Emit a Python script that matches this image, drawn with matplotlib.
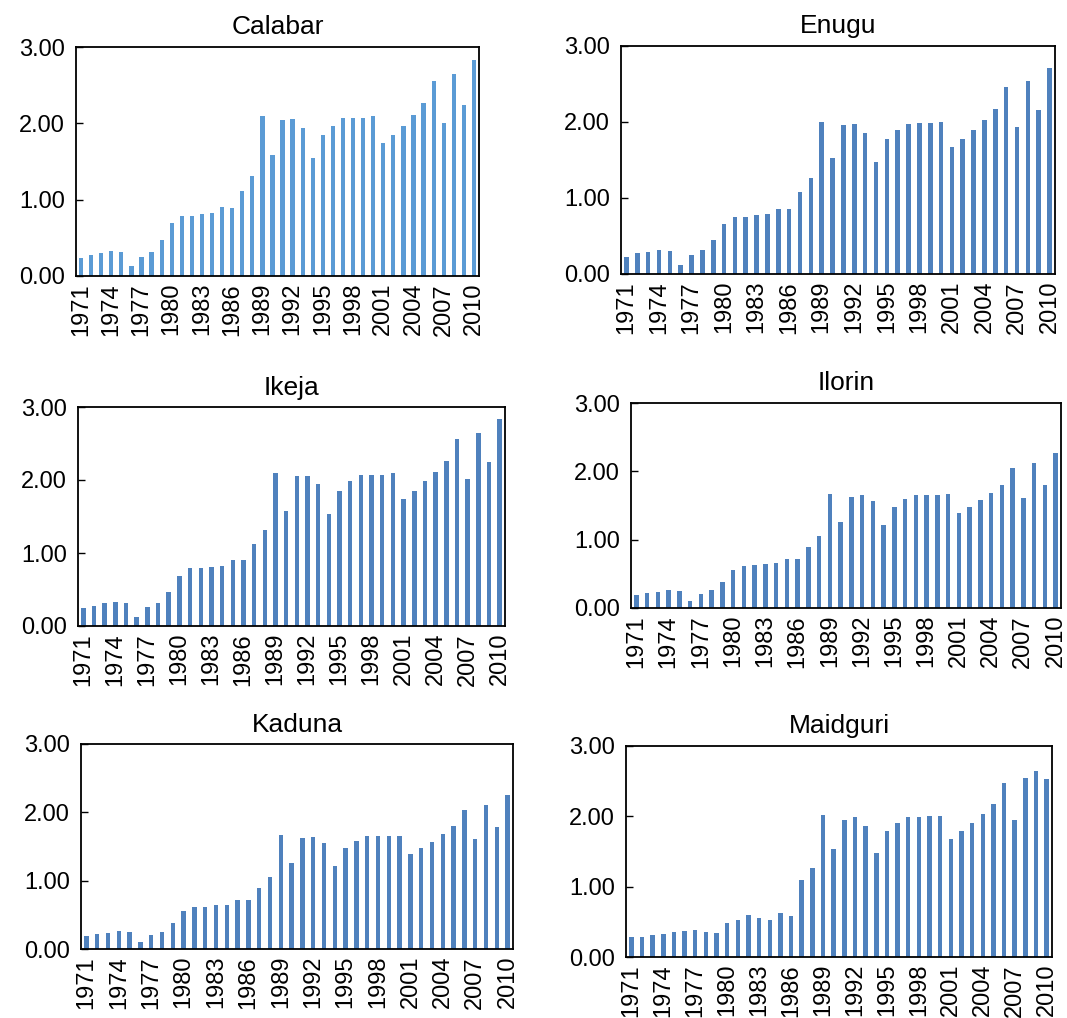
import matplotlib

matplotlib.use("Agg")
import matplotlib.pyplot as plt
import numpy as np

plt.rcParams["font.family"] = ["Liberation Sans", "DejaVu Sans"]

years = list(range(1971, 2011))

calabar = [0.24, 0.28, 0.30, 0.33, 0.31, 0.13, 0.25, 0.32, 0.47, 0.69,
           0.78, 0.79, 0.81, 0.82, 0.90, 0.89, 1.12, 1.31, 2.09, 1.58,
           2.04, 2.06, 1.94, 1.54, 1.85, 1.97, 2.07, 2.07, 2.07, 2.09,
           1.74, 1.85, 1.97, 2.11, 2.26, 2.56, 2.01, 2.65, 2.24, 2.83]
enugu = [0.23, 0.27, 0.29, 0.32, 0.30, 0.12, 0.25, 0.31, 0.45, 0.66,
         0.75, 0.75, 0.78, 0.79, 0.86, 0.86, 1.08, 1.26, 2.00, 1.52,
         1.96, 1.98, 1.86, 1.47, 1.78, 1.90, 1.98, 1.99, 1.99, 2.00,
         1.67, 1.78, 1.89, 2.03, 2.17, 2.46, 1.94, 2.54, 2.16, 2.71]
ikeja = [0.24, 0.28, 0.31, 0.33, 0.32, 0.13, 0.26, 0.32, 0.47, 0.69,
         0.79, 0.79, 0.81, 0.82, 0.90, 0.90, 1.13, 1.32, 2.09, 1.58,
         2.05, 2.06, 1.94, 1.54, 1.85, 1.98, 2.07, 2.07, 2.07, 2.09,
         1.74, 1.85, 1.98, 2.11, 2.26, 2.56, 2.02, 2.65, 2.25, 2.83]
ilorin = [0.19, 0.22, 0.24, 0.26, 0.25, 0.10, 0.20, 0.26, 0.38, 0.55,
          0.62, 0.63, 0.65, 0.66, 0.72, 0.71, 0.90, 1.05, 1.67, 1.26,
          1.63, 1.65, 1.56, 1.22, 1.48, 1.59, 1.65, 1.66, 1.66, 1.67,
          1.39, 1.48, 1.58, 1.69, 1.80, 2.05, 1.61, 2.12, 1.80, 2.27]
kaduna = [0.19, 0.22, 0.24, 0.26, 0.25, 0.10, 0.20, 0.25, 0.38, 0.55,
          0.62, 0.62, 0.64, 0.65, 0.71, 0.71, 0.90, 1.05, 1.67, 1.26,
          1.62, 1.64, 1.55, 1.22, 1.48, 1.58, 1.65, 1.65, 1.65, 1.66,
          1.39, 1.48, 1.57, 1.68, 1.80, 2.04, 1.61, 2.11, 1.79, 2.26]
maidguri = [0.28, 0.28, 0.31, 0.32, 0.36, 0.37, 0.38, 0.36, 0.34, 0.48,
            0.53, 0.60, 0.56, 0.53, 0.62, 0.58, 1.09, 1.27, 2.02, 1.53,
            1.95, 1.99, 1.86, 1.48, 1.79, 1.90, 1.99, 1.99, 2.00, 2.01,
            1.68, 1.79, 1.90, 2.03, 2.18, 2.47, 1.95, 2.55, 2.65, 2.53]

# (name, values, colour, pixel box: left, right, top, bottom)
panels = [
    ("Calabar", calabar, "#5B9BD5", (76, 479, 47, 276)),
    ("Enugu", enugu, "#4F81BD", (621, 1055, 46, 274)),
    ("Ikeja", ikeja, "#4F81BD", (78, 505, 407, 626)),
    ("Ilorin", ilorin, "#4F81BD", (631, 1061, 403, 608)),
    ("Kaduna", kaduna, "#4F81BD", (81, 513, 744, 949)),
    ("Maidguri", maidguri, "#4F81BD", (626, 1052, 746, 957)),
]

W, H = 1067, 1018
fig = plt.figure(figsize=(W / 100, H / 100), dpi=100)

x = np.arange(len(years))
for name, vals, color, (l, r, t, b) in panels:
    ax = fig.add_axes([l / W, 1 - b / H, (r - l) / W, (b - t) / H])
    ax.bar(x, vals, width=0.42, color=color, edgecolor="none")
    ax.set_xlim(-0.5, len(years) - 0.5)
    ax.set_ylim(0, 3)
    ax.set_yticks([0, 1, 2, 3])
    ax.set_yticklabels([f"{v:.2f}" for v in [0, 1, 2, 3]], fontsize=17)
    ax.set_xticks(x[::3])
    ax.set_xticklabels([str(y) for y in years[::3]], rotation=90, fontsize=17)
    ax.tick_params(axis="y", direction="in", length=5, width=1, pad=8)
    ax.tick_params(axis="x", length=0, pad=5)
    for s in ax.spines.values():
        s.set_linewidth(1.3)
    ax.set_title(name, fontsize=19, pad=9)

fig.savefig("out.png", dpi=100)
